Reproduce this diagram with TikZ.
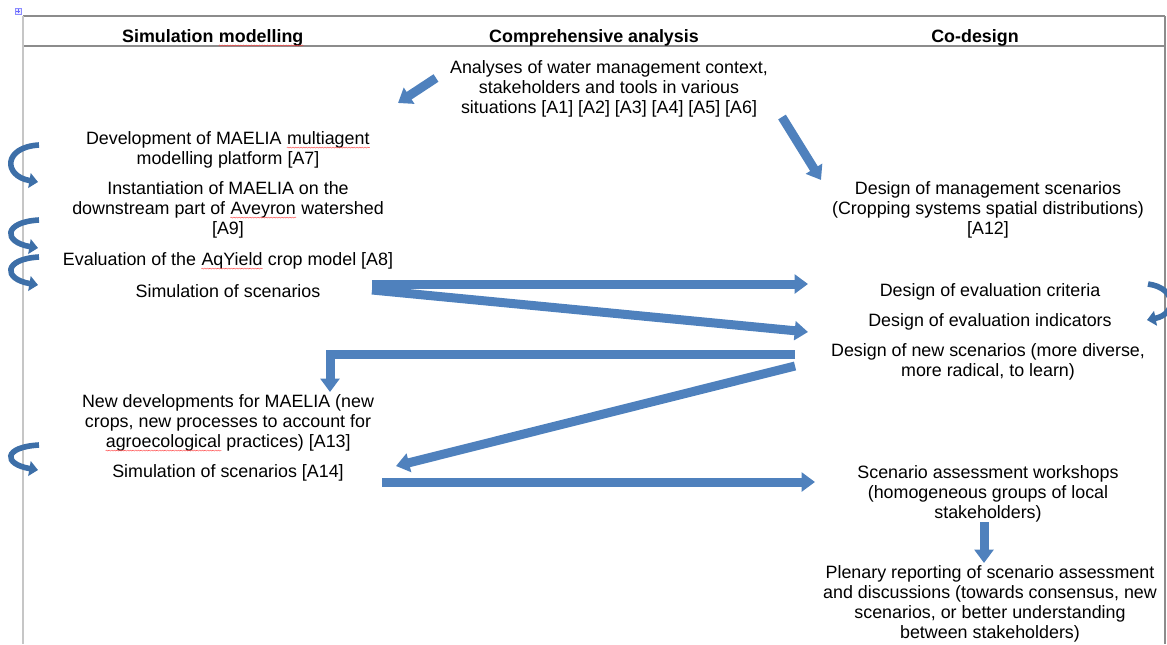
\documentclass[tikz,border=0pt]{standalone}
\usepackage{fontspec}
\setmainfont{Liberation Sans}
\usetikzlibrary{arrows.meta,decorations.pathmorphing}

\definecolor{arrowblue}{HTML}{4F81BD}
\definecolor{loopblue}{HTML}{3D6FA8}
\definecolor{rulegray}{HTML}{8C8C8C}
\newcommand\spellchk[1]{\tikz[baseline=(w.base)]{\node[inner sep=0pt] (w) {#1};
    \draw [red!75, line width=0.3pt, decorate, decoration={snake,amplitude=0.4pt,segment length=2pt}]
    ([yshift=-2.2pt]w.base west) -- ([yshift=-2.2pt]w.base east);}}

\begin{document}
\begin{tikzpicture}[x=0.75pt,y=-0.75pt,
    every node/.style={font=\fontsize{13.4}{15}\selectfont,align=center,inner sep=0pt},
    head/.style={font=\bfseries\fontsize{13.4}{15}\selectfont},
    flow/.style={arrowblue,line width=6.75pt,-{Triangle[width=14pt,length=10pt]}},
    turn/.style={loopblue,line width=4.2pt,-{Triangle[width=11pt,length=6.5pt]}}]
            \useasboundingbox (0,0) rectangle (1167,644);
            \draw [rulegray, line width=1.5pt] (23,16) -- (1165,16);
            \draw [rulegray, line width=0.9pt] (23,46) -- (1165,46);
            \draw [gray!45, line width=1.5pt] (23,16) -- (23,644);
            \draw [rulegray, line width=0.9pt] (1165,16) -- (1165,644);
            \draw [blue!45, fill=blue!8, line width=0.4pt] (15,8) rectangle (21,14);
            \draw [blue!60, line width=0.4pt] (18,9) -- (18,13) (16,11) -- (20,11);
            \node [head] at (213,38) (hsim) {Simulation \spellchk{modelling}};
            \node [head] at (594,38) (hana) {Comprehensive analysis};
            \node [head] at (975,38) (hco) {Co-design};
            \node at (609,89) (ana) {Analyses of water management context,\\stakeholders and tools in various\\situations [A1] [A2] [A3] [A4] [A5] [A6]};
            \node at (228,150) (dev) {Development of MAELIA \spellchk{multiagent}\\modelling platform [A7]};
            \node at (228,210) (inst) {Instantiation of MAELIA on the\\downstream part of \spellchk{Aveyron} watershed\\{}[A9]};
            \node at (228,261) (aqy) {Evaluation of the \spellchk{AqYield} crop model [A8]};
            \node at (228,291) (simA) {Simulation of scenarios};
            \node at (228,423) (newdev) {New developments for MAELIA (new\\crops, new processes to account for\\\spellchk{agroecological} practices) [A13]};
            \node at (228,473) (simB) {Simulation of scenarios [A14]};
            \node at (988,210) (mgmt) {Design of management scenarios\\(Cropping systems spatial distributions)\\{}[A12]};
            \node at (990,292) (crit) {Design of evaluation criteria};
            \node at (990,322) (indic) {Design of evaluation indicators};
            \node at (988,362) (newsc) {Design of new scenarios (more diverse,\\more radical, to learn)};
            \node at (988,494) (work) {Scenario assessment workshops\\(homogeneous groups of local\\stakeholders)};
            \node at (990,604) (plen) {Plenary reporting of scenario assessment\\and discussions (towards consensus, new\\scenarios, or better understanding\\between stakeholders)};
            \coordinate (anaL) at (436,78);
            \coordinate (devIn) at (398,103);
            \coordinate (anaR) at (782,117);
            \coordinate (mgmtIn) at (821,180);
            \coordinate (simOut) at (372,284);
            \coordinate (critIn) at (808,284);
            \coordinate (simOut2) at (372,290);
            \coordinate (indicIn) at (808,332);
            \coordinate (newOut) at (795,354);
            \coordinate (bend) at (330,354);
            \coordinate (newdevIn) at (330,392);
            \coordinate (newOut2) at (795,366);
            \coordinate (simBIn) at (396,466);
            \coordinate (simBOut) at (382,482);
            \coordinate (workIn) at (815,482);
            \coordinate (workOut) at (984,522);
            \coordinate (plenIn) at (984,563);
            \draw [flow] (anaL) -- (devIn);
            \draw [flow] (anaR) -- (mgmtIn);
            \draw [flow] (simOut) -- (critIn);
            \draw [flow] (simOut2) -- (indicIn);
            \draw [flow] (newOut) -- (bend) -- (newdevIn);
            \draw [flow] (newOut2) -- (simBIn);
            \draw [flow] (simBOut) -- (workIn);
            \draw [flow] (workOut) -- (plenIn);
            \foreach \t/\b in {145/182, 220/248, 257/285, 445/470}
                \draw [turn] (39,\t) .. controls (3,\t+2) and (3,\b-6) .. (38,\b);
            \draw [turn] (1148,284) .. controls (1177,288) and (1177,314) .. (1147,320);
\end{tikzpicture}
\end{document}
